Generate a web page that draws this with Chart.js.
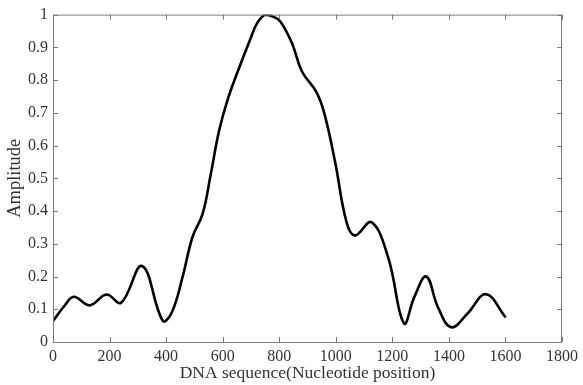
<!DOCTYPE html>
<html>
<head>
<meta charset="utf-8">
<script src="https://cdn.jsdelivr.net/npm/chart.js@4"></script>
<style>
  html, body { margin: 0; padding: 0; background: #fff; }
  #wrap { width: 583px; height: 385px; }
</style>
</head>
<body>
<div id="wrap"><canvas id="ampChart"></canvas></div>
<script>
const positions = [0, 40, 74, 130, 189, 241, 315, 388, 420, 458, 493, 529, 558, 587, 616, 658, 699, 722, 751, 780, 804, 845, 880, 933, 962, 998, 1038, 1068, 1126, 1185, 1241, 1278, 1320, 1361, 1408, 1466, 1531, 1601];
const amplitude = [0.064, 0.11, 0.138, 0.112, 0.145, 0.12, 0.232, 0.065, 0.09, 0.198, 0.32, 0.391, 0.513, 0.644, 0.736, 0.837, 0.928, 0.974, 1.0, 0.993, 0.979, 0.913, 0.827, 0.761, 0.69, 0.548, 0.366, 0.325, 0.366, 0.259, 0.057, 0.138, 0.2, 0.107, 0.045, 0.087, 0.146, 0.075];
const xTicks = [0, 200, 400, 600, 800, 1000, 1200, 1400, 1600, 1800];
const yTicks = [0, 0.1, 0.2, 0.3, 0.4, 0.5, 0.6, 0.7, 0.8, 0.9, 1];

const points = [];
for (let i = 0; i < positions.length; i++) {
  points.push({ x: positions[i], y: amplitude[i] });
}

const serif = "'Liberation Serif', 'Times New Roman', serif";
const axisGray = '#7a7a7a';

// box round the plot plus inward tick marks on all four sides
const frame = {
  id: 'frame',
  afterDatasetsDraw(chart) {
    const ctx = chart.ctx;
    const a = chart.chartArea;
    const xs = chart.scales.x;
    const ys = chart.scales.y;
    ctx.save();
    ctx.strokeStyle = axisGray;
    ctx.lineWidth = 1;
    ctx.strokeRect(a.left + 0.5, a.top + 0.5, a.right - a.left - 1, a.bottom - a.top);
    ctx.beginPath();
    xTicks.forEach(v => {
      const px = Math.round(xs.getPixelForValue(v)) + 0.5;
      ctx.moveTo(px, a.bottom); ctx.lineTo(px, a.bottom - 5);
      ctx.moveTo(px, a.top); ctx.lineTo(px, a.top + 5);
    });
    yTicks.forEach(v => {
      const py = Math.round(ys.getPixelForValue(v)) + 0.5;
      ctx.moveTo(a.left, py); ctx.lineTo(a.left + 5, py);
      ctx.moveTo(a.right, py); ctx.lineTo(a.right - 5, py);
    });
    ctx.stroke();
    ctx.restore();
  }
};

new Chart(document.getElementById('ampChart'), {
  type: 'line',
  data: {
    datasets: [{
      data: points,
      borderColor: '#000',
      borderWidth: 2.6,
      pointRadius: 0,
      fill: false,
      tension: 0.4
    }]
  },
  options: {
    responsive: true,
    maintainAspectRatio: false,
    animation: false,
    layout: {
      padding: { left: 0, right: 18, top: 13, bottom: 0 }
    },
    plugins: {
      legend: { display: false },
      tooltip: { enabled: false }
    },
    scales: {
      x: {
        type: 'linear',
        min: 0,
        max: 1800,
        afterBuildTicks: s => { s.ticks = xTicks.map(v => ({ value: v })); },
        afterFit: s => { s.height = 43; },
        grid: { display: false, drawTicks: false },
        border: { display: false },
        ticks: {
          color: '#333',
          padding: 5,
          maxRotation: 0,
          font: { family: serif, size: 16 },
          callback: v => String(v)
        },
        title: {
          display: true,
          text: 'DNA sequence(Nucleotide position)',
          color: '#333',
          padding: { top: 0, bottom: 1 },
          font: { family: serif, size: 17.5 }
        }
      },
      y: {
        min: 0,
        max: 1,
        afterBuildTicks: s => { s.ticks = yTicks.map(v => ({ value: v })); },
        afterFit: s => { s.width = 53; },
        grid: { display: false, drawTicks: false },
        border: { display: false },
        ticks: {
          color: '#333',
          padding: 5,
          font: { family: serif, size: 16 },
          callback: v => String(Math.round(v * 10) / 10)
        },
        title: {
          display: true,
          text: 'Amplitude',
          color: '#333',
          padding: { top: 4, bottom: 0 },
          font: { family: serif, size: 18.5 }
        }
      }
    }
  },
  plugins: [frame]
});
</script>
</body>
</html>
